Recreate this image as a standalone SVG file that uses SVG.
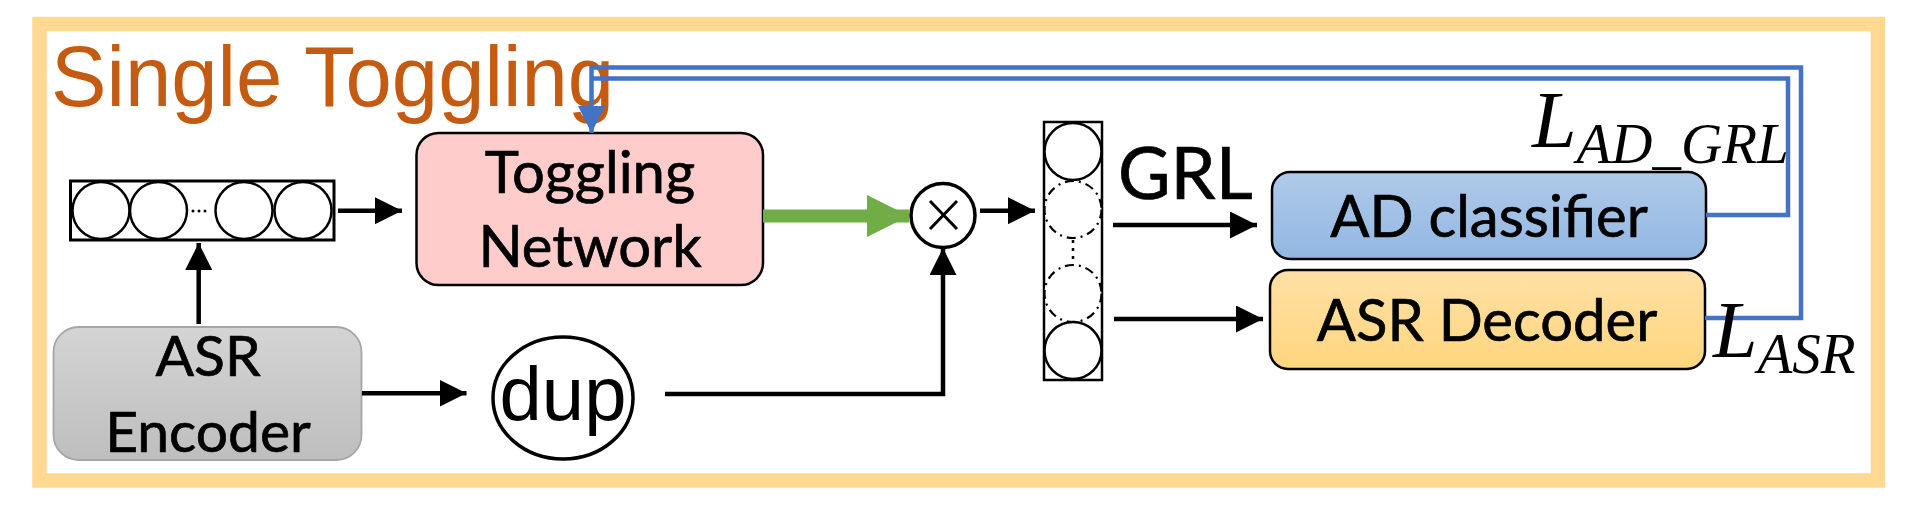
<svg xmlns="http://www.w3.org/2000/svg" width="1912" height="509" viewBox="0 0 1912 509">
<style>
.lbl{font-family:Lato,"Open Sans","DejaVu Sans",sans-serif;fill:#000;stroke:#000;stroke-width:0.7;text-anchor:middle}
.math{font-family:"Liberation Serif","DejaVu Serif",serif;font-style:italic;fill:#000}
.conn{fill:none;stroke:#000;stroke-width:4.5}
.blue{fill:none;stroke:#4472C4;stroke-width:4.5}
.cell{fill:#fff;stroke:#000;stroke-width:2.5}
.dcell{fill:#fff;stroke:#000;stroke-width:2.2;stroke-dasharray:9 5 2 5}
</style>
<defs>
<marker id="ah" markerUnits="userSpaceOnUse" markerWidth="27" markerHeight="27" viewBox="0 0 27 27" refX="27" refY="13.5" orient="auto"><path d="M0,0 L27,13.5 L0,27 z" fill="#000"/></marker>
<marker id="ahb" markerUnits="userSpaceOnUse" markerWidth="27" markerHeight="27" viewBox="0 0 27 27" refX="27" refY="13.5" orient="auto"><path d="M0,0 L27,13.5 L0,27 z" fill="#4472C4"/></marker>
<marker id="ahg" markerUnits="userSpaceOnUse" markerWidth="42" markerHeight="42" viewBox="0 0 42 42" refX="42" refY="21" orient="auto"><path d="M0,0 L42,21 L0,42 z" fill="#70AD47"/></marker>
<linearGradient id="gGray" x1="0" y1="0" x2="0" y2="1"><stop offset="0" stop-color="#D4D4D4"/><stop offset="1" stop-color="#BEBEBE"/></linearGradient>
<linearGradient id="gBlue" x1="0" y1="0" x2="0" y2="1"><stop offset="0" stop-color="#B0CAE9"/><stop offset="1" stop-color="#92B7E2"/></linearGradient>
<linearGradient id="gGold" x1="0" y1="0" x2="0" y2="1"><stop offset="0" stop-color="#FFE0A6"/><stop offset="1" stop-color="#FFD67E"/></linearGradient>
</defs>
<rect width="1912" height="509" fill="#fff"/>
<rect id="frame" x="39.5" y="24" width="1838.5" height="456.5" fill="none" stroke="#FFD992" stroke-width="14.5"/>
<text id="title" x="51" y="106" font-family="'Liberation Sans',Arial,sans-serif" font-size="86" fill="#C55A11" textLength="563" lengthAdjust="spacingAndGlyphs">Single Toggling</text>

<g id="seq-h">
<rect x="70.5" y="181" width="263.5" height="59" fill="#fff" stroke="#000" stroke-width="3"/>
<ellipse class="cell" cx="101" cy="210.5" rx="28.5" ry="28.5"/>
<ellipse class="cell" cx="158.5" cy="210.5" rx="28.5" ry="28.5"/>
<ellipse class="cell" cx="244" cy="210.5" rx="28.5" ry="28.5"/>
<ellipse class="cell" cx="303" cy="210.5" rx="28.5" ry="28.5"/>
<circle cx="193" cy="211" r="1.5" fill="#000"/><circle cx="199" cy="211" r="1.5" fill="#000"/><circle cx="205" cy="211" r="1.5" fill="#000"/>
</g>

<g id="toggling">
<rect x="416.5" y="133" width="346.5" height="152" rx="22" fill="#FFCCCC" stroke="#000" stroke-width="2.5"/>
<text class="lbl" x="590" y="193" font-size="58">Toggling</text>
<text class="lbl" x="590" y="267" font-size="58">Network</text>
</g>

<g id="encoder">
<rect x="53.5" y="327" width="308" height="133" rx="25" fill="url(#gGray)" stroke="#A6A6A6" stroke-width="1.8"/>
<text class="lbl" x="208" y="376" font-size="57">ASR</text>
<text class="lbl" x="208" y="452" font-size="57">Encoder</text>
</g>

<g id="dup">
<ellipse cx="563" cy="398" rx="70" ry="61" fill="#fff" stroke="#000" stroke-width="3.5"/>
<text x="563" y="420" font-family="'Liberation Sans',Arial,sans-serif" font-size="76" text-anchor="middle" fill="#000">dup</text>
</g>

<g id="mult">
<circle cx="943" cy="215.5" r="32" fill="#fff" stroke="#000" stroke-width="3.5"/>
<path d="M930,201 L957,229 M957,201 L930,229" stroke="#000" stroke-width="3" fill="none"/>
</g>

<g id="seq-v">
<rect x="1044" y="122" width="58" height="258" fill="#fff" stroke="#000" stroke-width="2.5"/>
<circle class="cell" cx="1073" cy="151.5" r="28.5"/>
<circle class="dcell" cx="1073" cy="209.5" r="28.5"/>
<line x1="1073" y1="240" x2="1073" y2="264" stroke="#000" stroke-width="2.5" stroke-dasharray="3 5"/>
<circle class="dcell" cx="1073" cy="293.5" r="28.5"/>
<circle class="cell" cx="1073" cy="350.5" r="28.5"/>
</g>

<g id="ad">
<rect x="1272" y="172" width="434" height="87" rx="18" fill="url(#gBlue)" stroke="#000" stroke-width="2.5"/>
<text class="lbl" x="1489" y="237" font-size="58">AD classifier</text>
</g>

<g id="dec">
<rect x="1270" y="270" width="435" height="99" rx="18" fill="url(#gGold)" stroke="#000" stroke-width="2.5"/>
<text class="lbl" x="1487" y="341" font-size="58">ASR Decoder</text>
</g>

<g id="connectors">
<path class="conn" d="M338,210.7 H402" marker-end="url(#ah)"/>
<path class="conn" d="M198.7,324 V243" marker-end="url(#ah)"/>
<path class="conn" d="M362,393.3 H466.5" marker-end="url(#ah)"/>
<path class="conn" d="M665,394 H943 V248" marker-end="url(#ah)"/>
<path d="M763,216 H909" fill="none" stroke="#70AD47" stroke-width="13" marker-end="url(#ahg)"/>
<path class="conn" d="M980,210.7 H1035" marker-end="url(#ah)"/>
<path class="conn" d="M1113,225 H1257" marker-end="url(#ah)"/>
<path class="conn" d="M1114,319 H1263" marker-end="url(#ah)"/>
<path class="blue" d="M1706,215 H1788 V78.5 H591.5"/>
<path class="blue" d="M1705,318 H1801 V67.5 H591.5 V133" marker-end="url(#ahb)"/>
</g>

<g id="labels">
<text class="lbl" x="1118" y="199" font-size="72" style="text-anchor:start">GRL</text>
<text class="math" x="1532" y="147" font-size="80">L<tspan font-size="57" dy="16">AD_GRL</tspan></text>
<text class="math" x="1713" y="357" font-size="80">L<tspan font-size="57" dy="16">ASR</tspan></text>
</g>
</svg>
